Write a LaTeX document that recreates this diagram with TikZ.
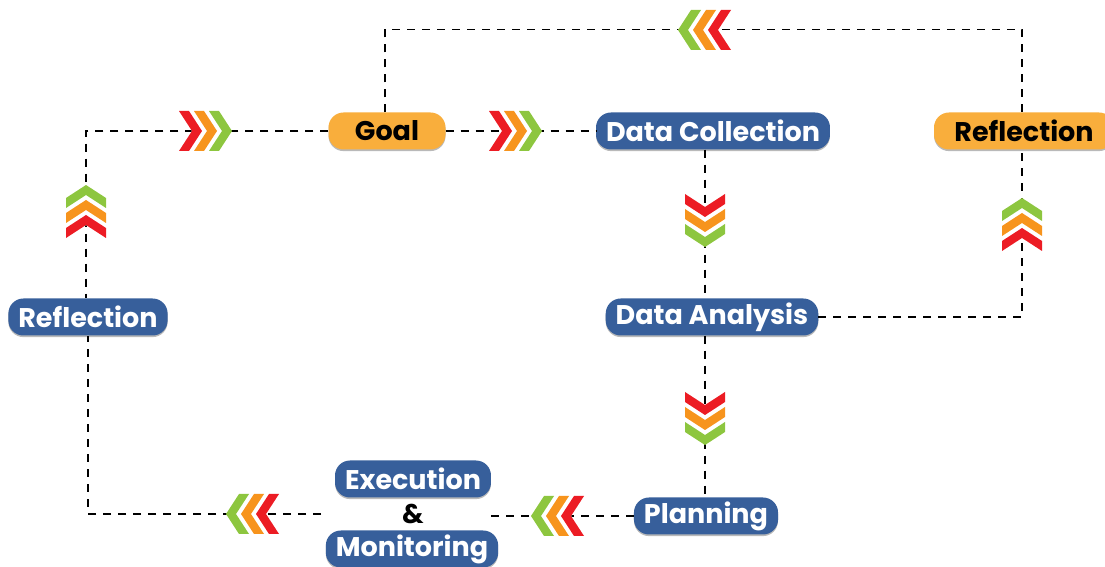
\documentclass[tikz,border=0pt]{standalone}
\usepackage{fontspec}
\setmainfont{Poppins}
\usetikzlibrary{shadows}
\definecolor{stepblue}{HTML}{375F9B}
\definecolor{steporange}{HTML}{F9AE3C}
\definecolor{chevred}{HTML}{EC1C24}
\definecolor{chevorange}{HTML}{F7941D}
\definecolor{chevgreen}{HTML}{8DC63F}
\tikzset{
  every node/.style={font=\fontsize{27}{31}\selectfont\bfseries},
  stepbox/.style={rounded corners=15pt,minimum height=37pt,inner xsep=10pt,inner ysep=0pt,
    drop shadow={shadow xshift=0pt,shadow yshift=-1.6pt,fill=black!55}},
  bluebox/.style={stepbox,fill=stepblue,text=white},
  orangebox/.style={stepbox,fill=steporange,text=black},
  link/.style={draw=black,line width=1.5pt,dash pattern=on 8pt off 7pt},
  pics/chevrons/.style={code={
    \fill[white] (-26,-20)--(10,-20)--(23,0)--(10,20)--(-26,20)--(-13,0)--cycle;
    \foreach \o/\c in {-26/chevred,-11/chevorange,4/chevgreen}
      \fill[\c] (\o,-20)--(\o+10,-20)--(\o+23,0)--(\o+10,20)--(\o,20)--(\o+13,0)--cycle;
  }}}
\begin{document}
\begin{tikzpicture}[x=1pt,y=1pt]
\useasboundingbox (0,0) rectangle (1105,567);
% boxes of the cycle
\node[orangebox,minimum width=117pt] (goal) at (387,436) {Goal};
\node[bluebox] (dc) at (713,436) {Data Collection};
\node[orangebox,minimum width=180pt] (refR) at (1024,436) {Reflection};
\node[bluebox] (da) at (712,250) {Data Analysis};
\node[bluebox] (refL) at (88,250) {Reflection};
\node[bluebox] (plan) at (706,51) {Planning};
\node[bluebox] (exec) at (413,88) {Execution};
\node[text=black] (amp) at (413,53) {\&};
\node[bluebox] (mon) at (412,18) {Monitoring};
\coordinate (execin) at (486,51);
\coordinate (execout) at (321,53);
% dashed connectors
\draw[link] ([xshift=-2pt]goal.north) -- ++(0,83) -| ([xshift=-2pt]refR.north);
\draw[link] (goal.west) -| ([xshift=-2pt]refL.north);
\draw[link] (goal.east) -- (dc.west);
\draw[link] ([xshift=-8pt]dc.south) -- ([xshift=-7pt]da.north);
\draw[link] (da.east) -| ([xshift=-2pt]refR.south);
\draw[link] ([xshift=-7pt]da.south) -- ([xshift=-1pt]plan.north);
\draw[link] (plan.west) -- (execin);
\draw[link] (execout) -| (refL.south);
% chevron markers
\foreach \p/\a in {{705,537}/180,{205,436}/0,{86,355}/90,{515,436}/0,{705,347}/270,
  {1022,342}/90,{705,149}/270,{558,51}/180,{253,53}/180}
  \pic[rotate=\a] at (\p) {chevrons};
\end{tikzpicture}
\end{document}
